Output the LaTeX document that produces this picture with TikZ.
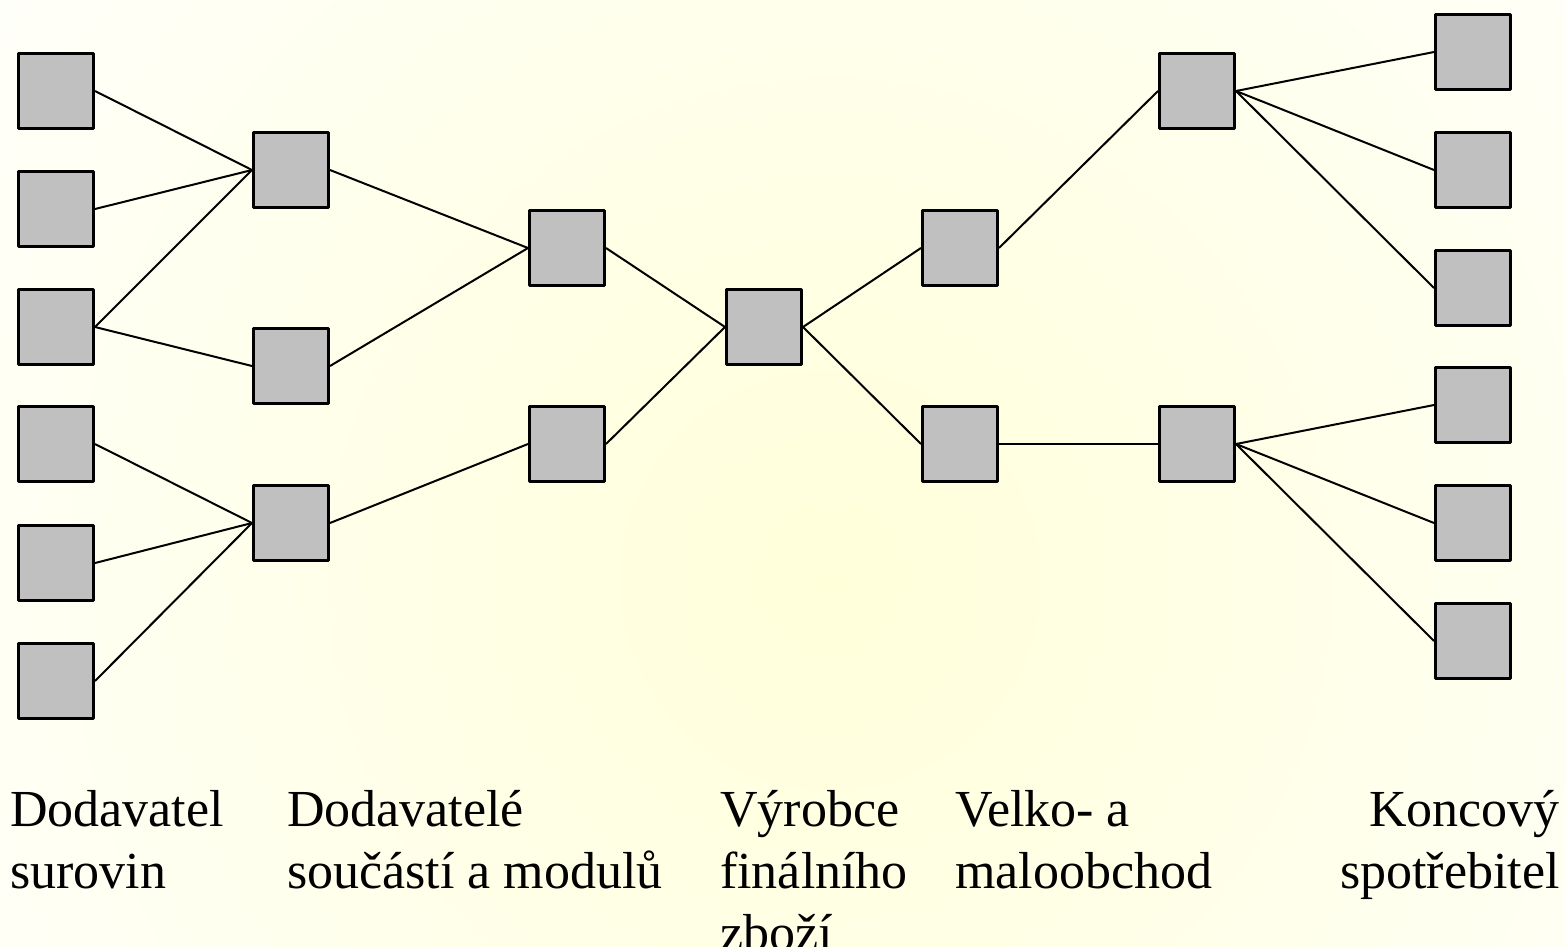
\documentclass[tikz,border=0pt]{standalone}
\usepackage{fontspec}
\setmainfont{Liberation Serif}
\definecolor{boxgray}{RGB}{192,192,192}
\definecolor{bgyellow}{RGB}{255,255,218}
\begin{document}
\begin{tikzpicture}[x=1pt,y=-1pt, line join=round,
	box/.style={draw,fill=boxgray,line width=3pt,minimum size=75pt,inner sep=0pt},
	link/.style={line width=2pt},
	label/.style={anchor=base west,align=left,inner sep=0pt,font=\fontsize{52}{62}\selectfont}]
	\useasboundingbox (0,0) rectangle (1566,946);
	\begin{scope}
		\clip (0,0) rectangle (1566,946);
		\shade[inner color=bgyellow,outer color=white] (830,580) circle (1200);
	\end{scope}
	% dodavatele surovin
	\foreach \y [count=\i] in {91,209,327,444,563,681}
	\node[box] (s\i) at (56,\y) {};
	% koncovi spotrebitele
	\foreach \y [count=\i] in {52,170,288,405,523,641}
	\node[box] (k\i) at (1473,\y) {};
	\path
	(291,170) node[box] (d1) {}
	(291,366) node[box] (d2) {}
	(291,523) node[box] (d3) {}
	(567,248) node[box] (m1) {}
	(567,444) node[box] (m2) {}
	(764,327) node[box] (v) {}
	(960,248) node[box] (o1) {}
	(960,444) node[box] (o2) {}
	(1197,91) node[box] (r1) {}
	(1197,444) node[box] (r2) {};
	\foreach \a/\b in {s1/d1,s2/d1,s3/d1,s3/d2,s4/d3,s5/d3,s6/d3,d1/m1,d2/m1,d3/m2,m1/v,m2/v,v/o1,v/o2,o1/r1,o2/r2,r1/k1,r1/k2,r1/k3,r2/k4,r2/k5,r2/k6}
	\draw[link] (\a.east) -- (\b.west);
	% popisky (base = posledni radek)
	\path
	(10,888) node[label] (l1) {Dodavatel\\surovin}
	(287,888) node[label] (l2) {Dodavatelé\\součástí a modulů}
	(720,950) node[label] (l3) {Výrobce\\finálního\\zboží}
	(955,888) node[label] (l4) {Velko- a\\maloobchod}
	(1560,888) node[label,anchor=base east,align=right] (l5) {Koncový\\spotřebitel};
\end{tikzpicture}
\end{document}
